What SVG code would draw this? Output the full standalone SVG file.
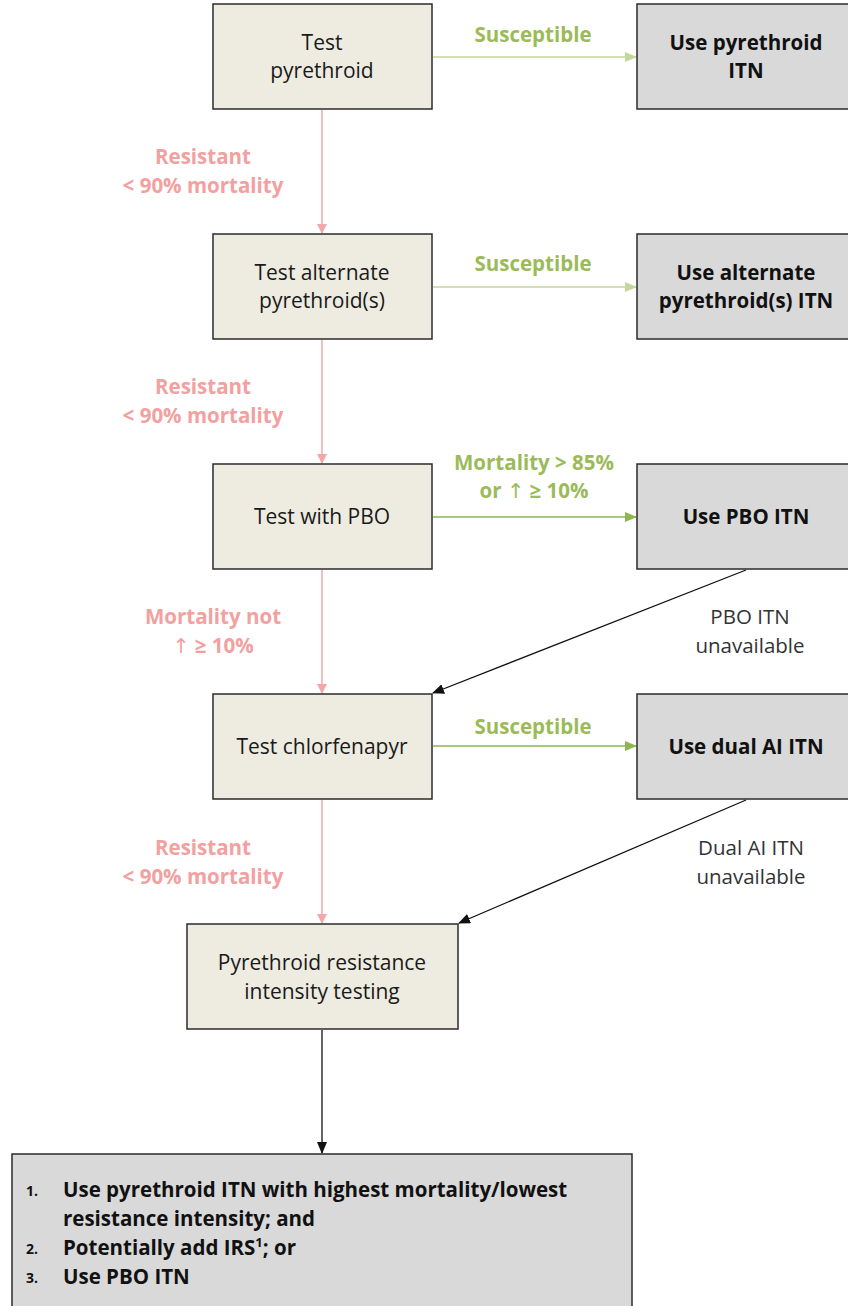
<svg xmlns="http://www.w3.org/2000/svg" width="848" height="1306" viewBox="0 0 848 1306">
<defs>
<style>
.step{fill:#EEECE1;stroke:#2b2b2b;stroke-width:1.5}
.out{fill:#D9D9D9;stroke:#2b2b2b;stroke-width:1.5}
.t{font-family:"Open Sans","Liberation Sans",sans-serif;font-size:21px;fill:#1a1a1a;text-anchor:middle}
.tb{font-family:"Open Sans","Liberation Sans",sans-serif;font-size:20.5px;font-weight:bold;fill:#111;text-anchor:middle}
.pk{font-family:"Open Sans","Liberation Sans",sans-serif;font-size:20.5px;font-weight:bold;fill:#F2A0A0;text-anchor:middle}
.gr{font-family:"Open Sans","Liberation Sans",sans-serif;font-size:20.5px;font-weight:bold;fill:#9BBB59;text-anchor:middle}
.lb{font-family:"Open Sans","Liberation Sans",sans-serif;font-size:20.5px;fill:#333;text-anchor:middle}
.li{font-family:"Open Sans","Liberation Sans",sans-serif;font-size:20.5px;font-weight:bold;fill:#111}
.num{font-family:"Open Sans","Liberation Sans",sans-serif;font-size:14px;font-weight:bold;fill:#111}
.arr{font-family:"DejaVu Sans",sans-serif;font-weight:normal}
</style>
<marker id="ap" markerWidth="10" markerHeight="10" refX="9" refY="5" orient="auto" markerUnits="userSpaceOnUse"><path d="M0,0 L10,5 L0,10 z" fill="#F2A8A8"/></marker>
<marker id="ag1" markerWidth="12" markerHeight="10" refX="11" refY="5" orient="auto" markerUnits="userSpaceOnUse"><path d="M0,0 L12,5 L0,10 z" fill="#C3D69B"/></marker>
<marker id="ag2" markerWidth="12" markerHeight="10" refX="11" refY="5" orient="auto" markerUnits="userSpaceOnUse"><path d="M0,0 L12,5 L0,10 z" fill="#8DB650"/></marker>
<marker id="ab" markerWidth="12" markerHeight="10" refX="11" refY="5" orient="auto" markerUnits="userSpaceOnUse"><path d="M0,0 L12,5 L0,10 z" fill="#111"/></marker>
</defs>
<rect width="848" height="1306" fill="#fff"/>
<g id="connectors">
<line x1="322" y1="110" x2="322" y2="233" stroke="#F2A8A8" stroke-width="1.5" marker-end="url(#ap)"/>
<line x1="322" y1="340" x2="322" y2="463" stroke="#F2A8A8" stroke-width="1.5" marker-end="url(#ap)"/>
<line x1="322" y1="570" x2="322" y2="693" stroke="#F2A8A8" stroke-width="1.5" marker-end="url(#ap)"/>
<line x1="322" y1="800" x2="322" y2="923" stroke="#F2A8A8" stroke-width="1.5" marker-end="url(#ap)"/>
<line x1="433" y1="57" x2="636" y2="57" stroke="#C3D69B" stroke-width="1.5" marker-end="url(#ag1)"/>
<line x1="433" y1="287" x2="636" y2="287" stroke="#C3D69B" stroke-width="1.5" marker-end="url(#ag1)"/>
<line x1="433" y1="517" x2="636" y2="517" stroke="#8DB650" stroke-width="1.5" marker-end="url(#ag2)"/>
<line x1="433" y1="746" x2="636" y2="746" stroke="#8DB650" stroke-width="1.5" marker-end="url(#ag2)"/>
<line x1="746" y1="570" x2="433" y2="693" stroke="#111" stroke-width="1.3" marker-end="url(#ab)"/>
<line x1="746" y1="800" x2="459" y2="923" stroke="#111" stroke-width="1.3" marker-end="url(#ab)"/>
<line x1="322" y1="1030" x2="322" y2="1153" stroke="#111" stroke-width="1.3" marker-end="url(#ab)"/>
<text class="pk" x="203" y="164">Resistant</text>
<text class="pk" x="203" y="193">&lt; 90% mortality</text>
<text class="pk" x="203" y="394">Resistant</text>
<text class="pk" x="203" y="423">&lt; 90% mortality</text>
<text class="pk" x="213" y="624">Mortality not</text>
<text class="pk" x="213" y="653"><tspan class="arr">↑</tspan> ≥ 10%</text>
<text class="pk" x="203" y="855">Resistant</text>
<text class="pk" x="203" y="884">&lt; 90% mortality</text>
<text class="gr" x="533" y="42">Susceptible</text>
<text class="gr" x="533" y="271">Susceptible</text>
<text class="gr" x="534" y="470">Mortality &gt; 85%</text>
<text class="gr" x="534" y="498">or <tspan class="arr">↑</tspan> ≥ 10%</text>
<text class="gr" x="533" y="734">Susceptible</text>
<text class="lb" x="750" y="624">PBO ITN</text>
<text class="lb" x="750" y="653">unavailable</text>
<text class="lb" x="751" y="855">Dual AI ITN</text>
<text class="lb" x="751" y="884">unavailable</text>
</g>
<g id="n1"><rect class="step" x="213" y="4" width="219" height="105"/><text class="t" x="322" y="50">Test</text><text class="t" x="322" y="78">pyrethroid</text></g>
<g id="o1"><rect class="out" x="637" y="4" width="220" height="105"/><text class="tb" x="746" y="50">Use pyrethroid</text><text class="tb" x="746" y="78">ITN</text></g>
<g id="n2"><rect class="step" x="213" y="234" width="219" height="105"/><text class="t" x="322" y="280">Test alternate</text><text class="t" x="322" y="308">pyrethroid(s)</text></g>
<g id="o2"><rect class="out" x="637" y="234" width="220" height="105"/><text class="tb" x="746" y="280">Use alternate</text><text class="tb" x="746" y="308">pyrethroid(s) ITN</text></g>
<g id="n3"><rect class="step" x="213" y="464" width="219" height="105"/><text class="t" x="322" y="524">Test with  PBO</text></g>
<g id="o3"><rect class="out" x="637" y="464" width="220" height="105"/><text class="tb" x="746" y="524">Use PBO ITN</text></g>
<g id="n4"><rect class="step" x="213" y="694" width="219" height="105"/><text class="t" x="322" y="754">Test chlorfenapyr</text></g>
<g id="o4"><rect class="out" x="637" y="694" width="220" height="105"/><text class="tb" x="746" y="754">Use dual AI ITN</text></g>
<g id="n5"><rect class="step" x="187" y="924" width="271" height="105"/><text class="t" x="322" y="970">Pyrethroid  resistance</text><text class="t" x="322" y="999">intensity testing</text></g>
<g id="o5"><rect class="out" x="12" y="1154" width="620" height="160"/>
<text class="num" x="26" y="1196">1.</text><text class="li" x="63" y="1197">Use pyrethroid ITN with highest mortality/lowest</text>
<text class="li" x="63" y="1226">resistance intensity; and</text>
<text class="num" x="26" y="1254">2.</text><text class="li" x="63" y="1255">Potentially add IRS<tspan font-size="13" dy="-8">1</tspan><tspan dy="8">; or</tspan></text>
<text class="num" x="26" y="1283">3.</text><text class="li" x="63" y="1284">Use PBO ITN</text>
</g>
</svg>
